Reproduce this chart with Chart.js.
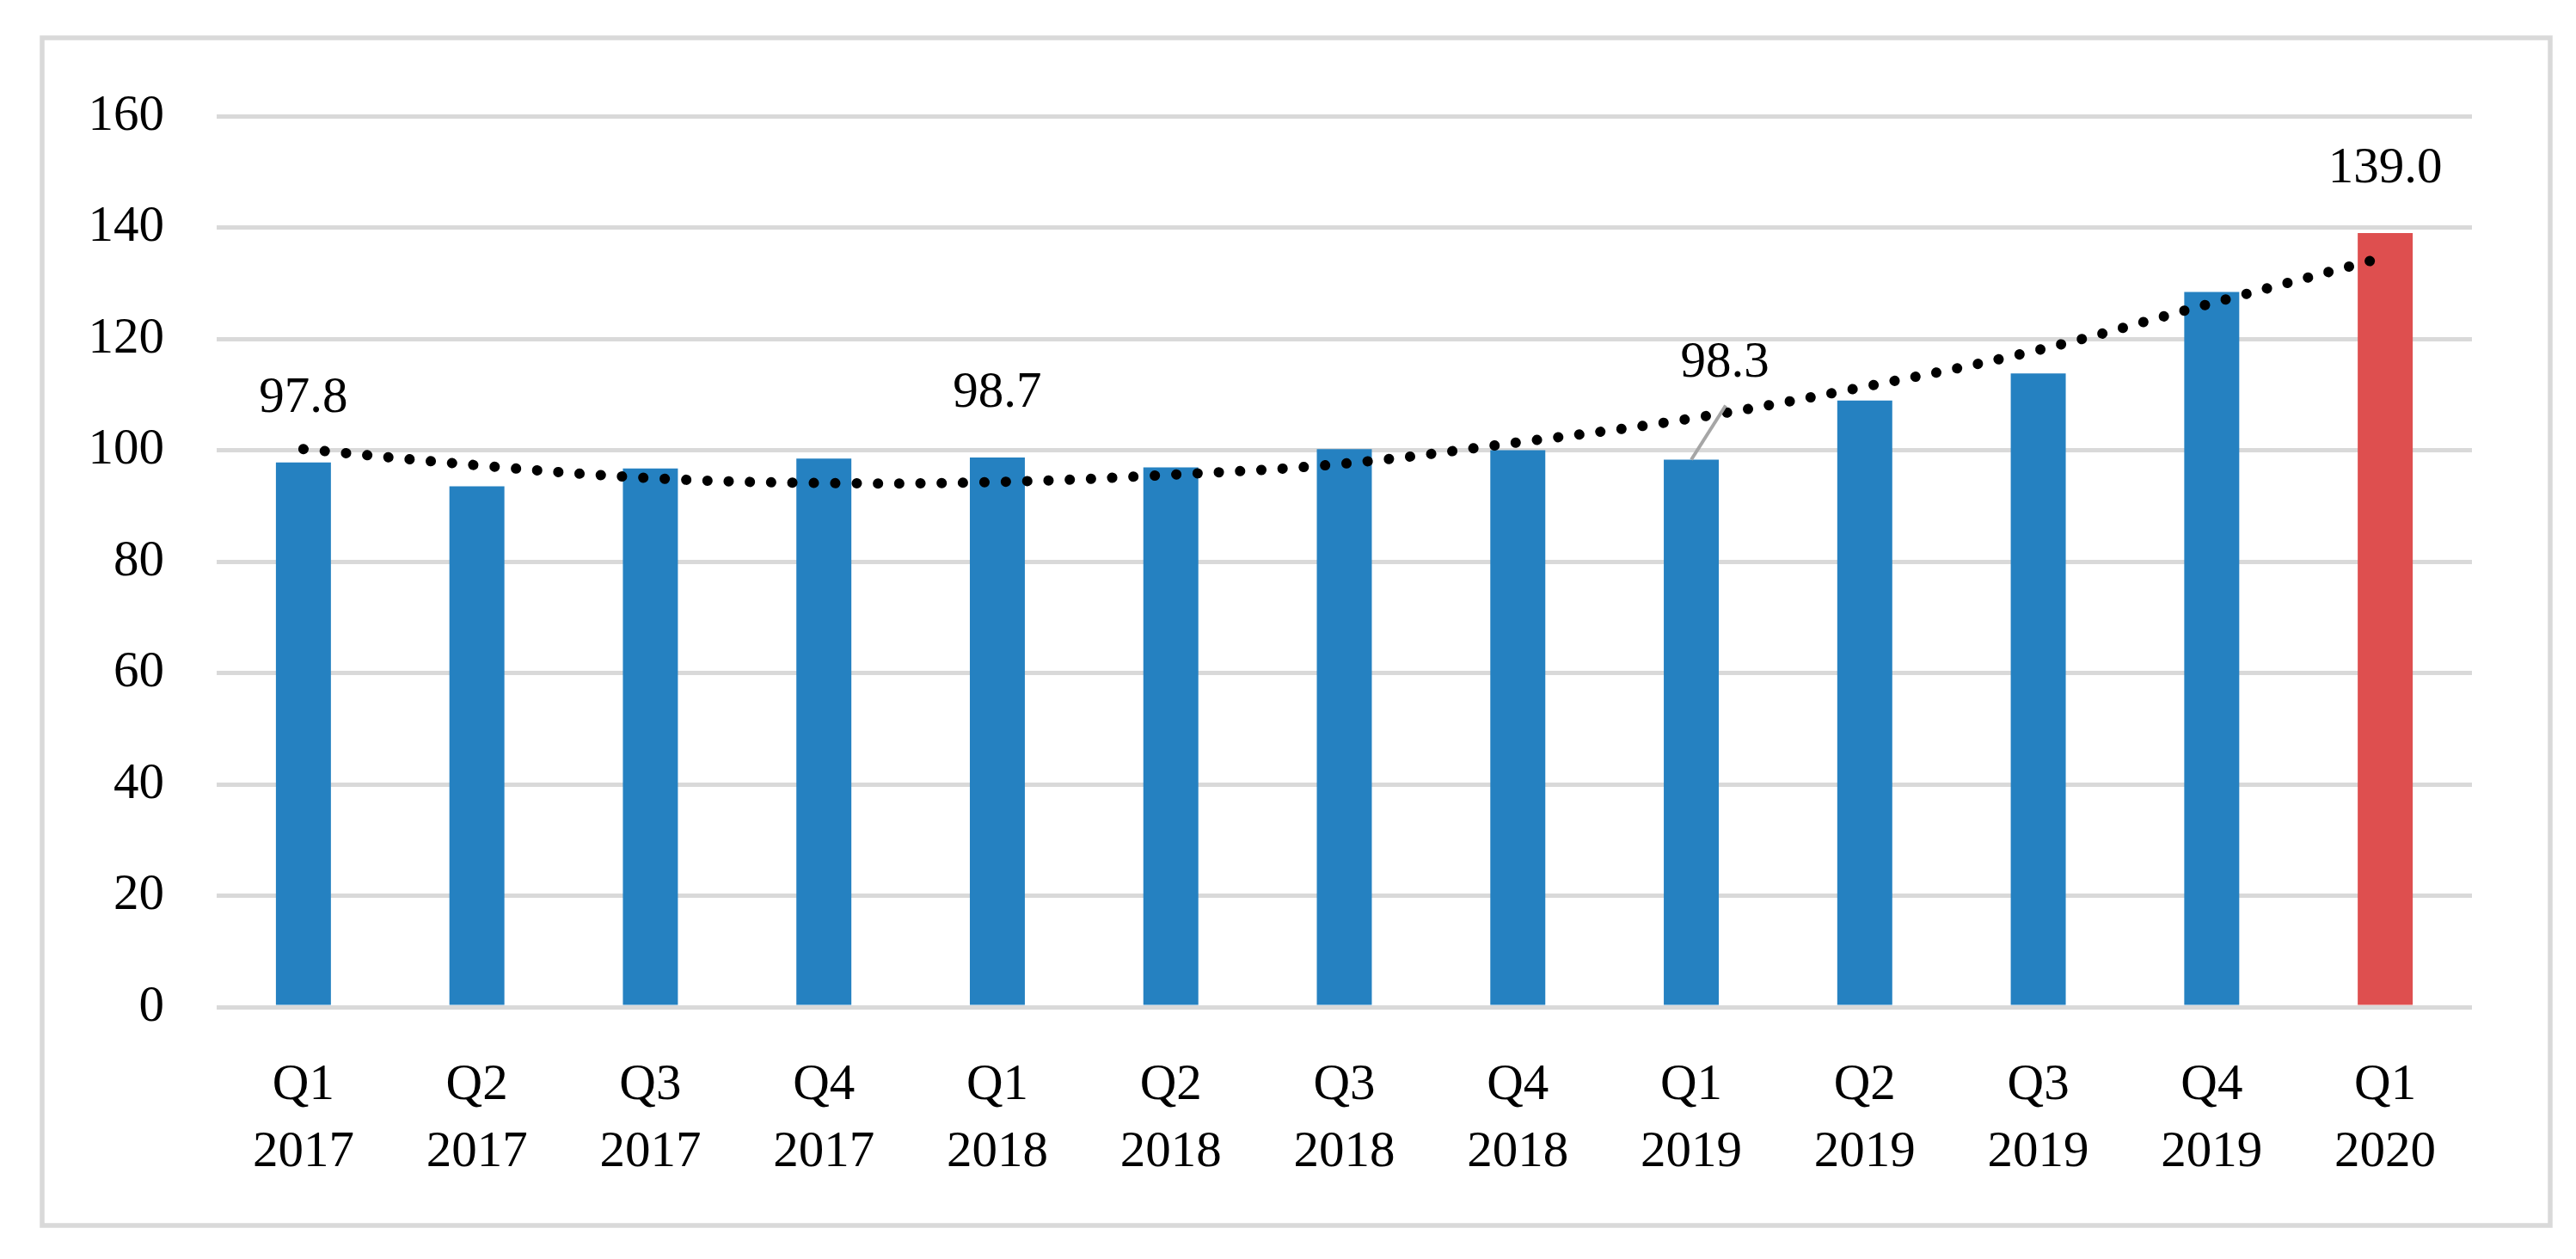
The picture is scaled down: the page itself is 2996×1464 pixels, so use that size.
<!DOCTYPE html>
<html>
<head>
<meta charset="utf-8">
<script src="https://cdn.jsdelivr.net/npm/chart.js@4/dist/chart.umd.min.js"></script>
<style>
  html, body { margin: 0; padding: 0; background: #fff; }
  canvas { display: block; }
</style>
</head>
<body>
<canvas id="myChart" width="2996" height="1464"></canvas>
<script>
// quarters and values
const quarters = [
    ["Q1", "2017"], ["Q2", "2017"], ["Q3", "2017"], ["Q4", "2017"],
    ["Q1", "2018"], ["Q2", "2018"], ["Q3", "2018"], ["Q4", "2018"],
    ["Q1", "2019"], ["Q2", "2019"], ["Q3", "2019"], ["Q4", "2019"],
    ["Q1", "2020"]
];
const values = [97.8, 93.5, 96.7, 98.5, 98.7, 96.9, 100.2, 100.0, 98.3, 108.9, 113.8, 128.4, 139.0];
// dotted trend line, as read at each quarter
const trend = [100.2, 97.3, 95.0, 94.1, 94.3, 95.6, 97.6, 101.4, 105.7, 111.4, 118.0, 126.4, 134.7];
// which bars carry a value label
const labelled = [0, 4, 8, 12];
const yTicks = { min: 0, max: 160, step: 20 };

const BLUE = "#2581c1";
const RED = "#de4f4f";
const GRID = "#d9d9d9";
const FONT = "'Liberation Serif', 'Times New Roman', serif";

// gray frame round the whole chart
const framePlugin = {
    id: "frame",
    beforeDraw(chart) {
        const ctx = chart.ctx;
        ctx.save();
        ctx.fillStyle = "#fff";
        ctx.fillRect(0, 0, chart.width, chart.height);
        ctx.strokeStyle = GRID;
        ctx.lineWidth = 5.5;
        ctx.strokeRect(49, 44, 2917, 1381);
        ctx.restore();
    }
};

// value labels above selected bars (Q1 2019 label is pushed aside with a leader line)
const labelPlugin = {
    id: "valueLabels",
    afterDatasetsDraw(chart) {
        const ctx = chart.ctx;
        const meta = chart.getDatasetMeta(0);
        ctx.save();
        ctx.font = "59px " + FONT;
        ctx.fillStyle = "#000";
        ctx.textAlign = "center";
        ctx.textBaseline = "middle";
        labelled.forEach(i => {
            const bar = meta.data[i];
            const txt = values[i].toFixed(1);
            if (i === 8) {
                ctx.strokeStyle = "#a6a6a6";
                ctx.lineWidth = 4;
                ctx.beginPath();
                ctx.moveTo(bar.x, bar.y);
                ctx.lineTo(bar.x + 40, bar.y - 63);
                ctx.stroke();
                ctx.fillText(txt, bar.x + 39, bar.y - 112);
            } else {
                ctx.fillText(txt, bar.x, bar.y - 74);
            }
        });
        ctx.restore();
    }
};

const ctx = document.getElementById("myChart").getContext("2d");
new Chart(ctx, {
    data: {
        labels: quarters,
        datasets: [{
            type: "bar",
            data: values,
            backgroundColor: c => c.dataIndex === values.length - 1 ? RED : BLUE,
            categoryPercentage: 1,
            barPercentage: 0.317,
            order: 1
        }, {
            type: "line",
            data: trend,
            borderColor: "#000",
            borderWidth: 12,
            borderDash: [0.1, 24.7],
            borderCapStyle: "round",
            pointRadius: 0,
            tension: 0.4,
            fill: false,
            order: 0
        }]
    },
    options: {
        responsive: false,
        animation: false,
        devicePixelRatio: 1,
        layout: { padding: { top: 135, right: 121, bottom: 0, left: 0 } },
        plugins: {
            legend: { display: false },
            tooltip: { enabled: false }
        },
        scales: {
            x: {
                grid: { display: false },
                border: { display: false },
                ticks: {
                    color: "#000",
                    font: { family: FONT, size: 59, lineHeight: 1.33 },
                    padding: 44,
                    maxRotation: 0,
                    autoSkip: false
                },
                afterFit(scale) { scale.height = 293; }
            },
            y: {
                min: yTicks.min,
                max: yTicks.max,
                grid: { color: GRID, lineWidth: 5, drawTicks: false },
                border: { display: false },
                ticks: {
                    stepSize: yTicks.step,
                    color: "#000",
                    font: { family: FONT, size: 59 },
                    padding: 61
                },
                afterFit(scale) { scale.width = 252; }
            }
        }
    },
    plugins: [framePlugin, labelPlugin]
});
</script>
</body>
</html>
